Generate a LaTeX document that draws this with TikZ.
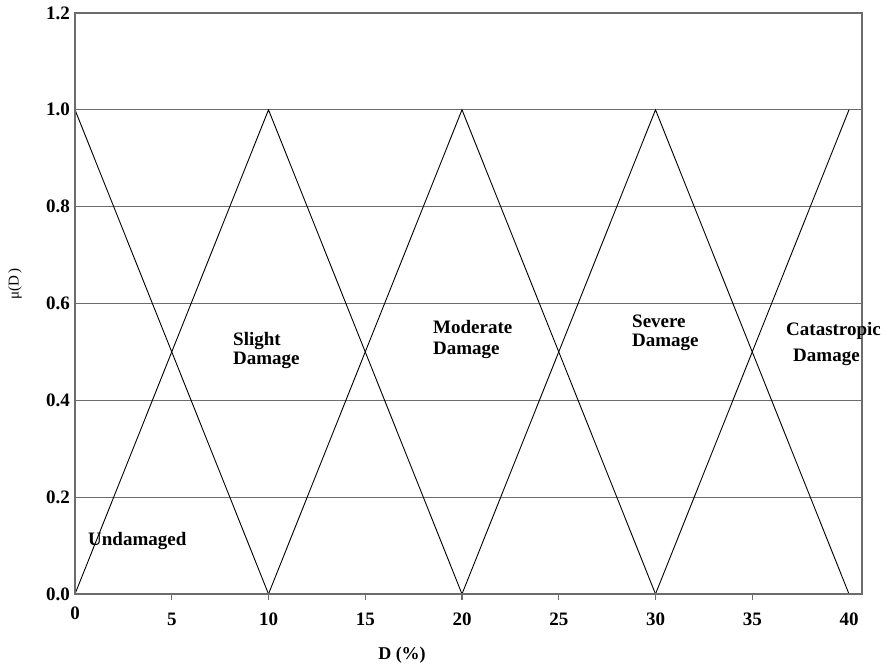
\documentclass[tikz,border=0pt]{standalone}
\usepackage{fontspec}
\setmainfont{Liberation Serif}
\begin{document}
\begin{tikzpicture}[x=1pt,y=1pt,
  frame/.style={draw=gray!85!black,line width=1.4pt},
  grid/.style={draw=gray!85!black,line width=1.1pt},
  member/.style={draw=black,line width=0.9pt,line join=miter},
  ticklab/.style={font=\fontsize{19}{19}\selectfont\bfseries,inner sep=0pt},
  setlab/.style={inner sep=0pt,align=left,anchor=base west}]
\useasboundingbox (0,0) rectangle (887,667);
\begin{scope}[shift={(75,73)},x=19.35pt,y=484.2pt]
  % horizontal grid lines
  \foreach \m in {0.2,0.4,0.6,0.8,1.0}
    \draw[grid] (0,\m) -- (40.67,\m);
  % membership functions
  \coordinate (z0) at (0,0);
  \coordinate (o0) at (0,1);
  \foreach \d in {10,20,30,40} {
    \coordinate (z\d) at (\d,0);
    \coordinate (o\d) at (\d,1);
  }
  \draw[member] (o0) -- (z10);
  \draw[member] (z0) -- (o10) -- (z20);
  \draw[member] (z10) -- (o20) -- (z30);
  \draw[member] (z20) -- (o30) -- (z40);
  \draw[member] (z30) -- (o40);
  % frame and ticks
  \draw[frame] (0,0) rectangle (40.67,1.2);
  \foreach \d in {5,10,...,35}
    \draw[frame] (\d,0) -- ++(0,-6pt);
  % y tick labels
  \foreach \m/\t in {0/0.0,0.2/0.2,0.4/0.4,0.6/0.6,0.8/0.8,1.0/1.0,1.2/1.2}
    \node[ticklab,anchor=east] (yl\t) at ([xshift=-5pt]0,\m) {\t};
  % x tick labels
  \node[ticklab,anchor=center] (xl0) at ([yshift=-19pt]0,0) {0};
  \foreach \d in {5,10,...,40}
    \node[ticklab,anchor=center] (xl\d) at ([yshift=-25pt]\d,0) {\d};
\end{scope}
% axis titles
\node[font=\fontsize{15}{15}\selectfont,rotate=90,inner sep=0pt] (ytitle) at (15,383) {μ(D\,)};
\node[font=\fontsize{18}{18}\selectfont\bfseries,inner sep=0pt] (xtitle) at (402,12) {D (\%)};
% set labels (anchored at the baseline of the last line)
\node[setlab,font=\fontsize{19}{19}\selectfont\bfseries] (undam) at (88,121) {Undamaged};
\node[setlab,font=\fontsize{19}{19}\selectfont\bfseries] (slight) at (233,302) {Slight\\Damage};
\node[setlab,font=\fontsize{19}{21}\selectfont\bfseries] (moder) at (433,312) {Moderate\\Damage};
\node[setlab,font=\fontsize{19}{19}\selectfont\bfseries] (severe) at (632,320) {Severe\\Damage};
\node[setlab,font=\fontsize{19}{26}\selectfont\bfseries] (catas) at (786,305) {Catastropic\\\hspace*{7pt}Damage};
\end{tikzpicture}
\end{document}
